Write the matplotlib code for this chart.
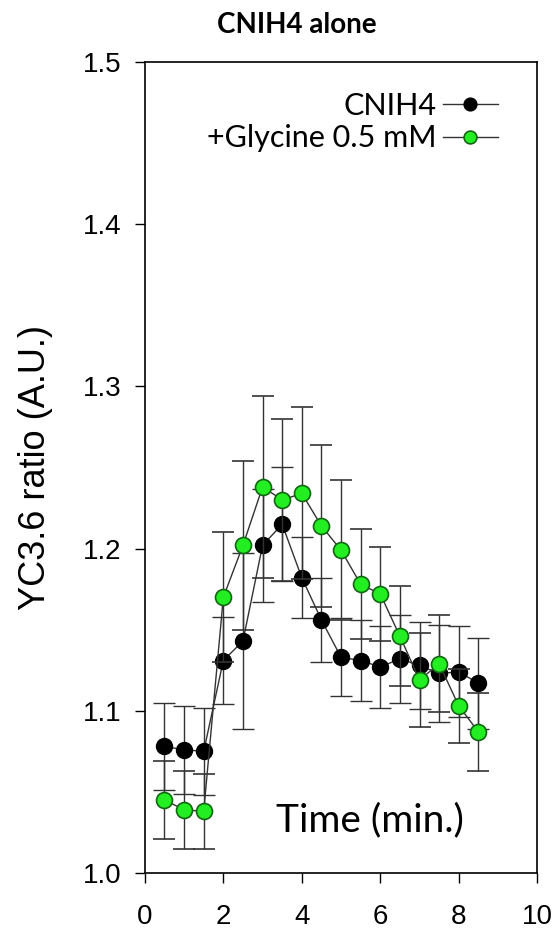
import matplotlib.pyplot as plt
import numpy as np

# time points (min)
time = [0.5, 1.0, 1.5, 2.0, 2.5, 3.0, 3.5, 4.0, 4.5, 5.0, 5.5, 6.0, 6.5, 7.0, 7.5, 8.0, 8.5]

cnih4 = [1.078, 1.076, 1.075, 1.131, 1.143, 1.202, 1.215, 1.182, 1.156, 1.133, 1.131, 1.127, 1.132,
         1.128, 1.123, 1.124, 1.117]
cnih4_err = [0.027, 0.027, 0.027, 0.027, 0.054, 0.035, 0.035, 0.025, 0.026, 0.024, 0.025, 0.025, 0.027,
             0.027, 0.030, 0.028, 0.028]

glycine = [1.045, 1.039, 1.038, 1.170, 1.202, 1.238, 1.230, 1.234, 1.214, 1.199, 1.178, 1.172, 1.146,
           1.119, 1.129, 1.103, 1.087]
glycine_err = [0.024, 0.024, 0.023, 0.040, 0.052, 0.056, 0.050, 0.053, 0.050, 0.043, 0.034, 0.029, 0.031,
               0.029, 0.030, 0.023, 0.024]

fig = plt.figure(figsize=(5.55, 9.36), dpi=100)
ax = fig.add_axes([0.261, 0.0673, 0.707, 0.8665])

ax.errorbar(time, cnih4, yerr=cnih4_err, color='#333333', lw=1.0, capsize=8, elinewidth=1.0,
            capthick=1.0, marker='o', ms=11.5, mfc='black', mec='black', label='CNIH4', zorder=3)
ax.errorbar(time, glycine, yerr=glycine_err, color='#333333', lw=1.0, capsize=8, elinewidth=1.0,
            capthick=1.0, marker='o', ms=11.5, mfc='#22ee22', mec='#116611', mew=1.2,
            label='+Glycine 0.5 mM', zorder=4)

ax.set_xlim(0, 10)
ax.set_ylim(1.0, 1.5)
ax.set_xticks([0, 2, 4, 6, 8, 10])
ax.set_yticks([1.0, 1.1, 1.2, 1.3, 1.4, 1.5])
ax.set_yticklabels(['1.0', '1.1', '1.2', '1.3', '1.4', '1.5'])
ax.tick_params(direction='out', length=7, width=1, labelsize=20)
ax.tick_params(axis='x', pad=15)
ax.tick_params(axis='y', pad=10)
for s in ax.spines.values():
    s.set_linewidth(1.2)
for lab in ax.get_xticklabels() + ax.get_yticklabels():
    lab.set_family('Liberation Sans')

ax.set_ylabel('YC3.6 ratio (A.U.)', fontsize=26, family='Liberation Sans', labelpad=21)
ax.text(0.335, 0.052, 'Time (min.)', transform=ax.transAxes, fontsize=28, family='Lato')
fig.text(0.535, 0.973, 'CNIH4 alone', ha='center', va='center', fontsize=20,
         fontweight='bold', family='Lato')

h, l = ax.get_legend_handles_labels()
h = [x[0] for x in h]
ax.legend(h, l, loc='upper right', bbox_to_anchor=(0.97, 0.997), frameon=False, markerfirst=False,
          prop={'family': 'Lato', 'size': 22}, markerscale=0.8, handlelength=1.8,
          handletextpad=0.2, labelspacing=0.15)

plt.savefig('out.png', dpi=100)
